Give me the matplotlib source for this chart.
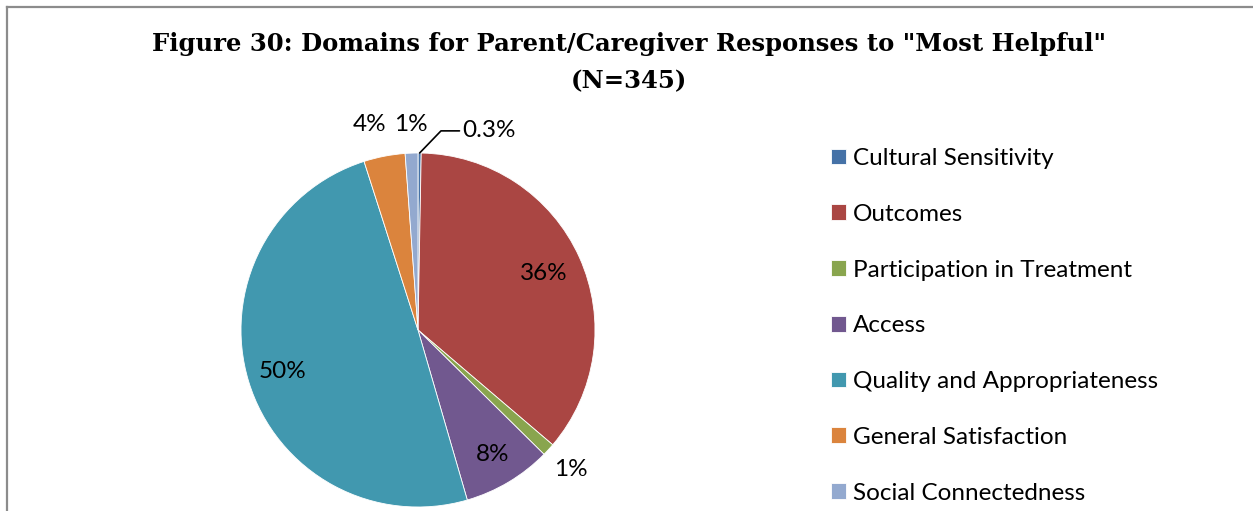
import numpy as np
import matplotlib

matplotlib.use("Agg")
import matplotlib.pyplot as plt
from matplotlib.lines import Line2D

# Counts per domain (N=345)
domains = [
    "Cultural Sensitivity",
    "Outcomes",
    "Participation in Treatment",
    "Access",
    "Quality and Appropriateness",
    "General Satisfaction",
    "Social Connectedness",
]
counts = [1, 124, 4, 28, 171, 13, 4]
pct_labels = ["0.3%", "36%", "1%", "8%", "50%", "4%", "1%"]
colors = ["#4572A7", "#AA4643", "#89A54E", "#71588F", "#4198AF", "#DB843D", "#93A9CF"]

# label radius per slice (fraction of pie radius) and small sideways nudges
label_r = [None, 0.78, 1.17, 0.82, 0.80, 1.18, 1.16]
nudge_x = [0, 0, 0, 0, 0, -0.05, 0]

W, H = 1253, 511
fig = plt.figure(figsize=(W / 100, H / 100), dpi=100)
fig.patch.set_facecolor("white")

# chart-area frame (left and top edges visible)
fig.add_artist(Line2D([7 / W, 7 / W], [0, 1 - 7 / H], transform=fig.transFigure,
                      color="#8c8c8c", linewidth=1.6))
fig.add_artist(Line2D([7 / W, 1], [1 - 7 / H, 1 - 7 / H], transform=fig.transFigure,
                      color="#8c8c8c", linewidth=1.6))

fig.text(629 / W, 1 - 44 / H, 'Figure 30: Domains for Parent/Caregiver Responses to "Most Helpful"',
         ha="center", va="center", fontsize=17.5, fontweight="bold", family="DejaVu Serif")
fig.text(629 / W, 1 - 81 / H, "(N=345)",
         ha="center", va="center", fontsize=17.5, fontweight="bold", family="DejaVu Serif")

cx, cy, r = 418, 330, 177
ax = fig.add_axes([(cx - r) / W, (H - cy - r) / H, 2 * r / W, 2 * r / H])
wedges, _ = ax.pie(counts, colors=colors, startangle=90, counterclock=False,
                   radius=1.0, wedgeprops=dict(linewidth=0.6, edgecolor="white"))
ax.set_xlim(-1, 1)
ax.set_ylim(-1, 1)
ax.set_aspect("equal")
ax.axis("off")

font = "Lato"
fs = 17.5
for w, lab, lr, nx in zip(wedges, pct_labels, label_r, nudge_x):
    mid = np.deg2rad((w.theta1 + w.theta2) / 2)
    if lr is None:
        ax.annotate(lab, xy=(np.cos(mid), np.sin(mid)), xytext=(0.25, 1.125),
                    ha="left", va="center", fontsize=fs, family=font,
                    annotation_clip=False,
                    arrowprops=dict(arrowstyle="-", color="black", linewidth=1.2,
                                    shrinkA=0, shrinkB=0, relpos=(0, 0.5),
                                    connectionstyle="angle,angleA=0,angleB=46,rad=0"))
    else:
        ax.text(lr * np.cos(mid) + nx, lr * np.sin(mid), lab, ha="center", va="center",
                fontsize=fs, family=font, clip_on=False)

fig.legend(wedges, domains, loc="upper left", bbox_to_anchor=(831 / W, 1 - 148 / H),
           frameon=False, prop={"family": font, "size": fs},
           handlelength=0.62, handleheight=0.62, handletextpad=0.3,
           labelspacing=1.43, borderaxespad=0, borderpad=0)

fig.savefig("out.png", dpi=100)
